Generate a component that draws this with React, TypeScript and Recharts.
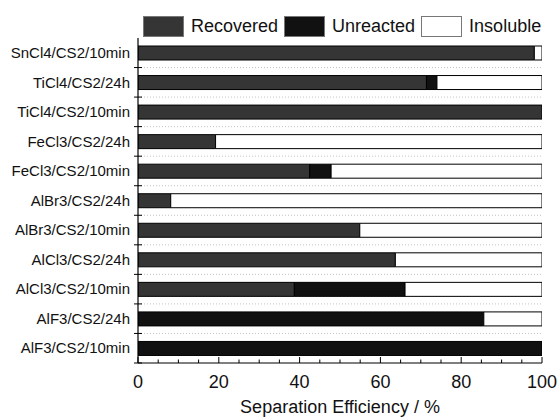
import React from "react";
import { BarChart, Bar, XAxis, YAxis, CartesianGrid, Legend } from "recharts";

// Sample systems, top to bottom
const samples = [
  "SnCl4/CS2/10min",
  "TiCl4/CS2/24h",
  "TiCl4/CS2/10min",
  "FeCl3/CS2/24h",
  "FeCl3/CS2/10min",
  "AlBr3/CS2/24h",
  "AlBr3/CS2/10min",
  "AlCl3/CS2/24h",
  "AlCl3/CS2/10min",
  "AlF3/CS2/24h",
  "AlF3/CS2/10min",
];

// Separation efficiency fractions (%), one entry per sample
const recovered = [98.1, 71.4, 100, 19.2, 42.5, 8.1, 54.9, 63.7, 38.7, 0, 0];
const unreacted = [0, 2.6, 0, 0, 5.3, 0, 0, 0, 27.4, 85.6, 100];
const insoluble = [1.9, 26.0, 0, 80.8, 52.2, 91.9, 45.1, 36.3, 33.9, 14.4, 0];

const efficiencyTicks = [0, 5, 10, 15, 20, 25, 30, 35, 40, 45, 50, 55, 60, 65, 70, 75, 80, 85, 90, 95, 100];
const majorTicks = [0, 20, 40, 60, 80, 100];

const series = [
  { key: "recovered", name: "Recovered", fill: "#353535" },
  { key: "unreacted", name: "Unreacted", fill: "#111111" },
  { key: "insoluble", name: "Insoluble", fill: "#ffffff" },
];

const data = samples.map((name, i) => ({
  name,
  recovered: recovered[i],
  unreacted: unreacted[i],
  insoluble: insoluble[i],
}));

const FONT = "'Liberation Sans', Arial, Helvetica, sans-serif";

const LegendContent = () => (
  <div
    style={{
      display: "flex",
      alignItems: "center",
      height: 23,
      paddingLeft: 143,
      fontFamily: FONT,
      fontSize: 18,
      color: "#111",
    }}
  >
    {series.map((s) => (
      <div key={s.key} style={{ display: "flex", alignItems: "center", marginRight: 6 }}>
        <span
          style={{
            display: "inline-block",
            width: 39,
            height: 19,
            background: s.fill,
            border: "1px solid #777",
            marginRight: 7,
          }}
        />
        <span>{s.name}</span>
      </div>
    ))}
  </div>
);

const LeftTick = ({ x, y, payload }: any) => {
  const half = payload.offset ?? 0;
  return (
    <g>
      <text x={x - 8} y={y} dy="0.35em" textAnchor="end" fontSize={15} fill="#111">
        {payload.value}
      </text>
      <line x1={x - 4} x2={x + 4} y1={y + half} y2={y + half} stroke="#000" />
    </g>
  );
};

const RightTick = ({ x, y, payload }: any) => {
  const half = payload.offset ?? 0;
  return (
    <g stroke="#000">
      <line x1={x - 5} x2={x} y1={y} y2={y} />
      <line x1={x - 5} x2={x} y1={y + half} y2={y + half} />
    </g>
  );
};

const BottomTick = ({ x, y, payload }: any) => {
  const major = majorTicks.includes(payload.value);
  return (
    <g>
      <line x1={x} x2={x} y1={y} y2={y - (major ? 6 : 3.5)} stroke="#000" />
      {major && (
        <text x={x} y={y + 25} textAnchor="middle" fontSize={18} fill="#111">
          {payload.value}
        </text>
      )}
    </g>
  );
};

const TopTick = ({ x, y, payload }: any) => {
  const major = majorTicks.includes(payload.value);
  return <line x1={x} x2={x} y1={y} y2={y + (major ? 6.5 : 3.5)} stroke="#000" />;
};

// dotted separators between sample rows
const rowSeparators = ({ offset }: any) => {
  const step = offset.height / samples.length;
  return samples.slice(1).map((_, i) => offset.top + step * (i + 1));
};

export default function App() {
  return (
    <div style={{ position: "absolute", left: 0, top: 0 }}>
      <BarChart
        width={557}
        height={419}
        data={data}
        layout="vertical"
        margin={{ top: 15, right: 15, bottom: 0, left: 0 }}
        style={{ fontFamily: FONT }}
      >
        <Legend verticalAlign="top" align="left" content={<LegendContent />} />
        <CartesianGrid
          vertical={false}
          stroke="#c4c4c4"
          strokeDasharray="1 2"
          horizontalCoordinatesGenerator={rowSeparators}
        />
        <XAxis
          type="number"
          domain={[0, 100]}
          ticks={efficiencyTicks}
          interval={0}
          allowDataOverflow
          height={56}
          tickSize={0}
          tickMargin={0}
          tickLine={false}
          tick={<BottomTick />}
          axisLine={{ stroke: "#000", strokeWidth: 1.2 }}
          label={{ value: "Separation Efficiency / %", position: "insideBottom", offset: 6, fontSize: 18, fill: "#111" }}
        />
        <XAxis
          xAxisId="top"
          orientation="top"
          type="number"
          domain={[0, 100]}
          ticks={efficiencyTicks}
          interval={0}
          allowDataOverflow
          height={0}
          tickSize={0}
          tickMargin={0}
          tickLine={false}
          tick={<TopTick />}
          axisLine={{ stroke: "#000", strokeWidth: 1.2 }}
        />
        <YAxis
          type="category"
          dataKey="name"
          width={138}
          interval={0}
          tickSize={0}
          tickMargin={0}
          tickLine={false}
          tick={<LeftTick />}
          axisLine={{ stroke: "#000", strokeWidth: 1.2 }}
        />
        <YAxis
          yAxisId="right"
          orientation="right"
          type="category"
          dataKey="name"
          width={0}
          interval={0}
          tickSize={0}
          tickMargin={0}
          tickLine={false}
          tick={<RightTick />}
          axisLine={{ stroke: "#000", strokeWidth: 1.2 }}
        />
        {series.map((s) => (
          <Bar
            key={s.key}
            dataKey={s.key}
            name={s.name}
            stackId="s"
            fill={s.fill}
            stroke="#000"
            barSize={14}
            isAnimationActive={false}
          />
        ))}
      </BarChart>
    </div>
  );
}
